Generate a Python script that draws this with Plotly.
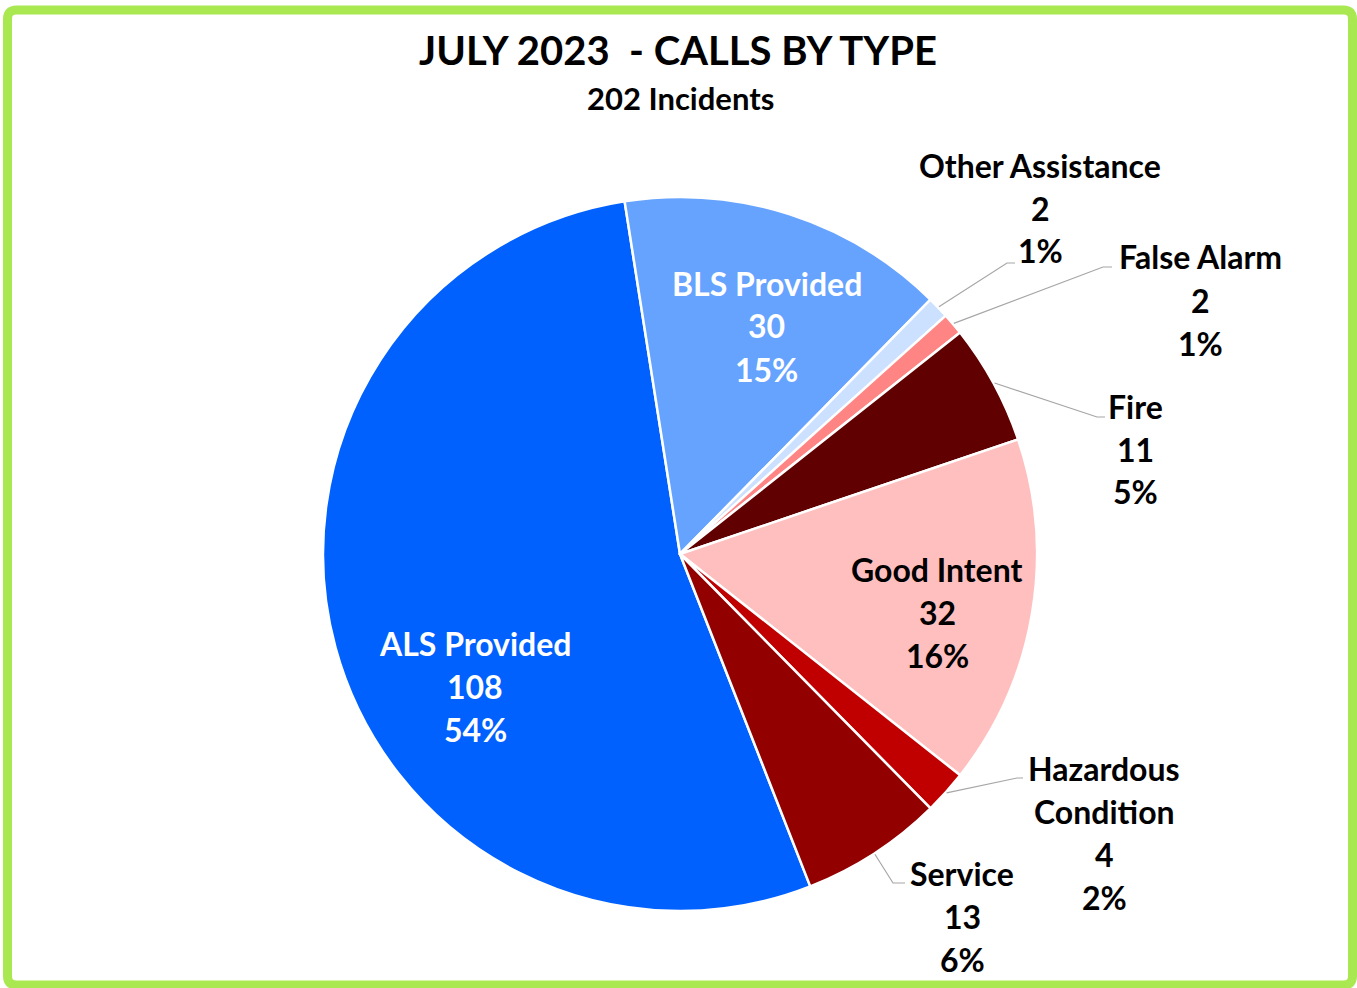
import math
import plotly.graph_objects as go

# ---- data ----
categories = ["ALS Provided", "BLS Provided", "Other Assistance", "False Alarm",
              "Fire", "Good Intent", "Hazardous Condition", "Service"]
counts = [108, 30, 2, 2, 11, 32, 4, 13]
percent_labels = ["54%", "15%", "1%", "1%", "5%", "16%", "2%", "6%"]
slice_colors = ["#0061FE", "#66A3FF", "#CCE0FF", "#FF8585",
                "#600000", "#FFBFBF", "#C00000", "#920000"]

title_text = "JULY 2023\u00a0\u00a0- CALLS BY TYPE"
subtitle_text = "202 Incidents"

# ---- layout geometry (pixels) ----
W, H = 1357, 988
CX, CY, R = 680, 554, 357
START_ANGLE = 158.6          # degrees clockwise from 12 o'clock
LINE_STEP = 43
FONT = "Lato"
LABEL_SIZE = 32

# label block: centre x, first line y, text colour, leader (elbow, end) or None
label_layout = {
    "ALS Provided":        (475, 643, "white", None),
    "BLS Provided":        (767, 283, "white", None),
    "Other Assistance":    (1040, 165, "black", ((1007, 263), (1015, 263))),
    "False Alarm":         (1200, 257, "black", ((1103, 267), (1112, 267))),
    "Fire":                (1135, 406, "black", ((1097, 417), (1105, 417))),
    "Good Intent":         (937, 569, "black", None),
    "Hazardous Condition": (1104, 768, "black", ((1017, 778), (1023, 778))),
    "Service":             (962, 873, "black", ((893, 883), (905, 883))),
}
name_lines = {"Hazardous Condition": ["Hazardous", "Condition"]}


def fx(x):
    return x / W


def fy(y):
    return 1 - y / H


fig = go.Figure(go.Pie(
    labels=categories,
    values=counts,
    sort=False,
    direction="clockwise",
    rotation=START_ANGLE,
    marker=dict(colors=slice_colors, line=dict(color="white", width=2.5)),
    textinfo="none",
    hoverinfo="label+value+percent",
    showlegend=False,
    domain=dict(x=[fx(CX - R), fx(CX + R)], y=[fy(CY + R), fy(CY - R)]),
))

annotations = []
shapes = []

# title and subtitle
annotations.append(dict(text=title_text, x=fx(678), y=fy(50), xref="paper", yref="paper",
                        showarrow=False, xanchor="center", yanchor="middle",
                        font=dict(family=FONT, size=40, color="black", weight="bold")))
annotations.append(dict(text=subtitle_text, x=fx(680), y=fy(98), xref="paper", yref="paper",
                        showarrow=False, xanchor="center", yanchor="middle",
                        font=dict(family=FONT, size=31, color="black", weight="bold")))

# data labels and leader lines
total = sum(counts)
cum = 0
for cat, val, pct in zip(categories, counts, percent_labels):
    mid = math.radians(START_ANGLE + (cum + val / 2) / total * 360)
    cum += val
    lx, ly, col, leader = label_layout[cat]
    lines = name_lines.get(cat, [cat]) + [str(val), pct]
    for k, line in enumerate(lines):
        annotations.append(dict(text=line, x=fx(lx), y=fy(ly + k * LINE_STEP),
                                xref="paper", yref="paper", showarrow=False,
                                xanchor="center", yanchor="middle",
                                font=dict(family=FONT, size=LABEL_SIZE, color=col,
                                          weight="bold")))
    if leader:
        sx = CX + (R + 1) * math.sin(mid)
        sy = CY - (R + 1) * math.cos(mid)
        (ex, ey), (tx, ty) = leader
        path = f"M {fx(sx)},{fy(sy)} L {fx(ex)},{fy(ey)} L {fx(tx)},{fy(ty)}"
        shapes.append(dict(type="path", path=path, xref="paper", yref="paper",
                           line=dict(color="#A6A6A6", width=1.2)))

# rounded green frame
x0, y0, x1, y1, rr = 7.5, 10, 1352.5, 985, 9
frame = (f"M {fx(x0 + rr)},{fy(y0)} L {fx(x1 - rr)},{fy(y0)} "
         f"Q {fx(x1)},{fy(y0)} {fx(x1)},{fy(y0 + rr)} "
         f"L {fx(x1)},{fy(y1 - rr)} Q {fx(x1)},{fy(y1)} {fx(x1 - rr)},{fy(y1)} "
         f"L {fx(x0 + rr)},{fy(y1)} Q {fx(x0)},{fy(y1)} {fx(x0)},{fy(y1 - rr)} "
         f"L {fx(x0)},{fy(y0 + rr)} Q {fx(x0)},{fy(y0)} {fx(x0 + rr)},{fy(y0)} Z")
shapes.append(dict(type="path", path=frame, xref="paper", yref="paper",
                   line=dict(color="#A9E851", width=9)))

fig.update_layout(
    width=W, height=H,
    margin=dict(l=0, r=0, t=0, b=0),
    paper_bgcolor="white",
    plot_bgcolor="white",
    annotations=annotations,
    shapes=shapes,
)

fig.write_html("out.html")
